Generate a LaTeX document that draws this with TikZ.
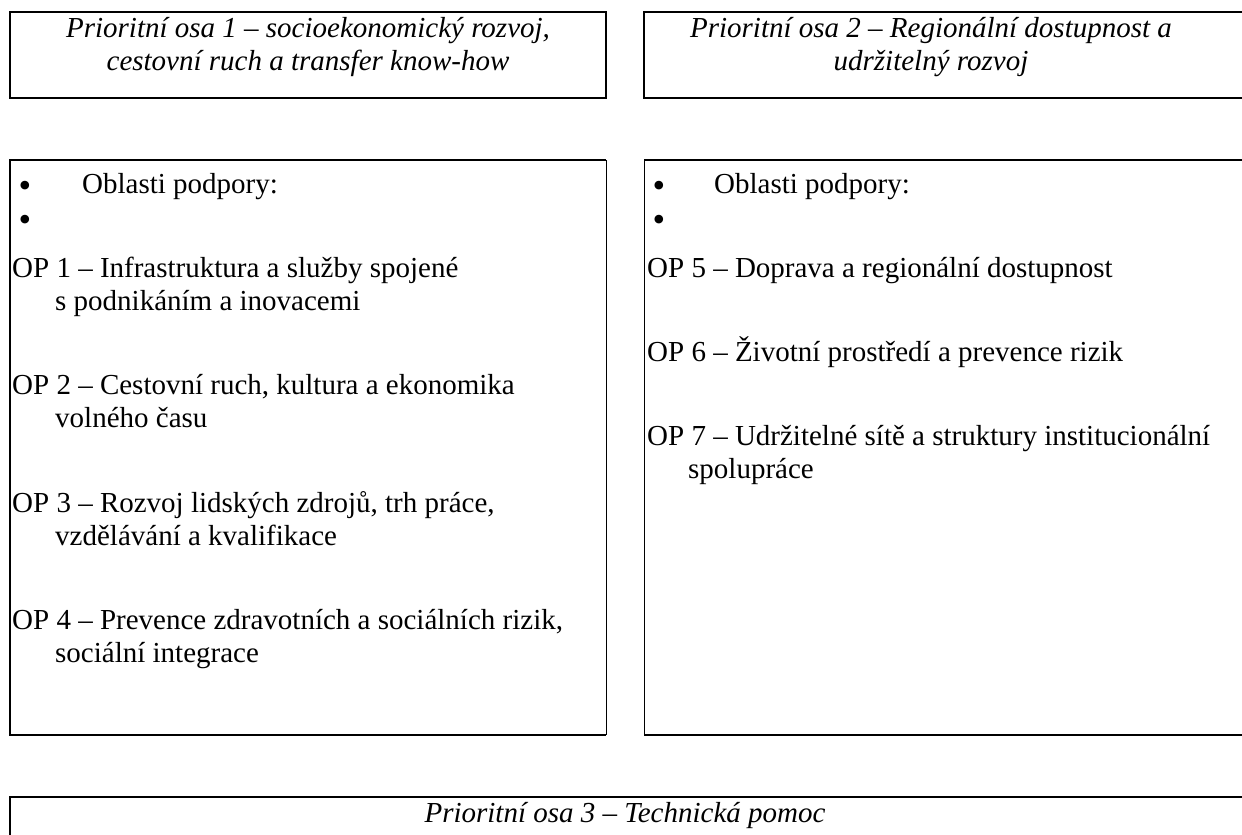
\documentclass[tikz,border=0pt]{standalone}
\usepackage{fontspec}
\setmainfont{Liberation Serif}
\usetikzlibrary{positioning}

\begin{document}
\begin{tikzpicture}[x=1pt,y=-1pt,
	osa/.style={font=\itshape\fontsize{29}{33}\selectfont, align=center, inner sep=0pt},
	radek/.style={font=\fontsize{29}{33}\selectfont, anchor=base west, inner sep=0pt},
	tecka/.style={font=\fontsize{36}{36}\selectfont, anchor=base, inner sep=0pt},
	silna/.style={line width=2pt},
	tenka/.style={line width=1pt}]
	%%%%% START %%%%%
	\useasboundingbox (0,0) rectangle (1242,835);
	\clip (0,0) rectangle (1242,835);
	
	% prioritni osy nahore
	\draw[silna] (10,12) rectangle (606,98);
	\draw[silna] (644,12) rectangle (1260,98);
	\node[osa] (osa1) at (308,47) {Prioritní osa 1 – socioekonomický rozvoj,\\cestovní ruch a transfer know-how};
	\node[osa] (osa2) at (931,47) {Prioritní osa 2 – Regionální dostupnost a\\udržitelný rozvoj};
	
	% oblasti podpory vlevo
	\draw[silna] (606,160) -- (10,160) -- (10,735) -- (606,735);
	\draw[tenka] (606,160) -- (606,735);
	\node[tecka] (bodA1) at (25,197) {•};
	\node[radek] (oblA) at (82,193) {Oblasti podpory:};
	\node[tecka] (bodA2) at (25,231) {•};
	\node[radek] (op1) at (12,277) {OP 1 – Infrastruktura a služby spojené};
	\node[radek] (op1b) at (55,310) {s podnikáním a inovacemi};
	\node[radek] (op2) at (12,394) {OP 2 – Cestovní ruch, kultura a ekonomika};
	\node[radek] (op2b) at (55,427) {volného času};
	\node[radek] (op3) at (12,512) {OP 3 – Rozvoj lidských zdrojů, trh práce,};
	\node[radek] (op3b) at (55,545) {vzdělávání a kvalifikace};
	\node[radek] (op4) at (12,629) {OP 4 – Prevence zdravotních a sociálních rizik,};
	\node[radek] (op4b) at (55,662) {sociální integrace};
	
	% oblasti podpory vpravo
	\draw[silna] (1260,160) -- (644,160);
	\draw[silna] (644,735) -- (1260,735);
	\draw[tenka] (644,160) -- (644,735);
	\node[tecka] (bodB1) at (659,197) {•};
	\node[radek] (oblB) at (714,193) {Oblasti podpory:};
	\node[tecka] (bodB2) at (659,231) {•};
	\node[radek] (op5) at (647,277) {OP 5 – Doprava a regionální dostupnost};
	\node[radek] (op6) at (647,361) {OP 6 – Životní prostředí a prevence rizik};
	\node[radek] (op7) at (647,445) {OP 7 – Udržitelné sítě a struktury institucionální};
	\node[radek] (op7b) at (688,478) {spolupráce};
	
	% technicka pomoc dole
	\draw[silna] (10,860) -- (10,797) -- (1260,797);
	\node[osa, anchor=base] (osa3) at (625,822) {Prioritní osa 3 – Technická pomoc};
	
	%%%%% END %%%%%
\end{tikzpicture}
\end{document}
